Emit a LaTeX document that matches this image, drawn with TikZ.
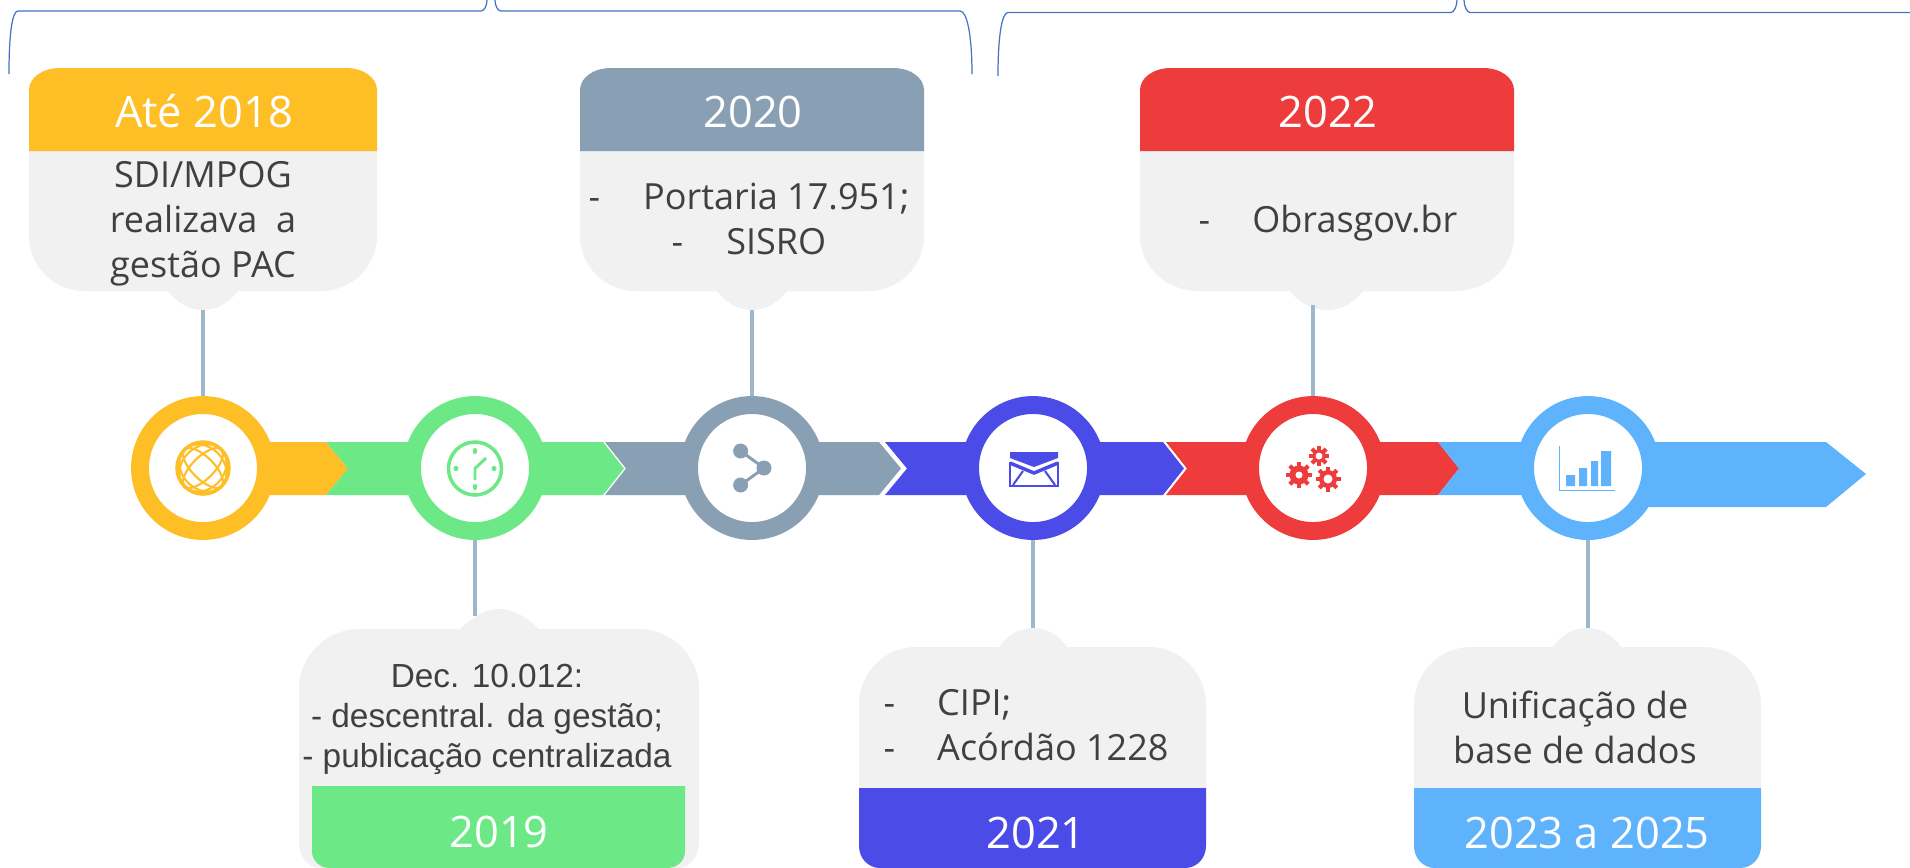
\documentclass[tikz,border=0pt]{standalone}
\usepackage{fontspec}
\setmainfont{Open Sans}
\newfontfamily\decfont{Liberation Sans}
\definecolor{ambar}{HTML}{FEBE25}
\definecolor{verde}{HTML}{6CE986}
\definecolor{cinza}{HTML}{899FB3}
\definecolor{anil}{HTML}{4B4BE8}
\definecolor{rubro}{HTML}{EE3B3B}
\definecolor{celeste}{HTML}{5FB2FC}
\definecolor{fundo}{HTML}{F1F1F1}
\definecolor{haste}{HTML}{9DB7CB}
\definecolor{chave}{HTML}{4472C4}
\definecolor{texto}{HTML}{404040}
\tikzset{
  ring/.style={circle, draw=#1, fill=white, line width=10.2pt, minimum size=2.52cm, inner sep=0pt},
  stem/.style={draw=haste, line width=2pt},
  brace/.style={draw=chave, line width=0.7pt},
  year/.style={text=white, font=\fontsize{24.7}{30}\selectfont, anchor=base},
  body/.style={text=texto, font=\fontsize{20.5}{25.6}\selectfont, align=center, inner sep=0pt},
  bodyleft/.style={text=texto, font=\fontsize{20.5}{25.6}\selectfont, align=left, inner sep=0pt},
  decbody/.style={text=texto, font=\decfont\fontsize{19}{22.8}\selectfont, align=center, inner sep=0pt}
}
\begin{document}
\begin{tikzpicture}[x=0.02cm, y=-0.02cm]
    \useasboundingbox (0,0) rectangle (1910,867);

    % braces along the top
    \draw[brace] (9,74) .. controls (9,35) and (12,11) .. (18,11) -- (481,11) .. controls (484,11) and (487,6) .. (487,0);
    \draw[brace] (495,0) .. controls (495,6) and (498,11) .. (501,11) -- (960,11) .. controls (967,11) and (972,35) .. (972,74);
    \draw[brace] (998,76) .. controls (998,35) and (1002,12.5) .. (1008,12.5) -- (1451,12.5) .. controls (1454,12.5) and (1457,6) .. (1457,0);
    \draw[brace] (1464,0) .. controls (1464,6) and (1467,12.5) .. (1470,12.5) -- (1910,12.5);

    % arrow segments
    \fill[ambar] (203,442) -- (326,442) -- (348,468.5) -- (326,495) -- (203,495) -- cycle;
    \fill[verde] (326,442) -- (603,442) -- (624,468.5) -- (603,495) -- (326,495) -- (348,468.5) -- cycle;
    \fill[cinza] (605,442) -- (879,442) -- (901,468.5) -- (879,495) -- (605,495) -- (626,468.5) -- cycle;
    \fill[anil] (885,442) -- (1163,442) -- (1184,468.5) -- (1163,495) -- (885,495) -- (907,468.5) -- cycle;
    \fill[rubro] (1166,442) -- (1438,442) -- (1459,468.5) -- (1438,495) -- (1166,495) -- (1187,468.5) -- cycle;
    \fill[celeste] (1438,442) -- (1826,442) -- (1866,474) -- (1826,507) -- (1588,507) -- (1588,495) -- (1438,495) -- (1459,468.5) -- cycle;

    % upper cards
    \fill[fundo] (29,151) -- (29,236) .. controls (29,266) and (54,291) .. (84,291) -- (168,291) .. controls (178,304) and (190,310) .. (203,310) .. controls (216,310) and (228,304) .. (238,291) -- (322,291) .. controls (352,291) and (377,266) .. (377,236) -- (377,151) -- cycle;
    \fill[ambar] (29,151) -- (29,90) .. controls (29,78) and (42,68) .. (60,68) -- (346,68) .. controls (364,68) and (377,78) .. (377,90) -- (377,151) -- cycle;
    \fill[fundo] (580,151) -- (580,236) .. controls (580,266) and (605,291) .. (635,291) -- (717,291) .. controls (727,304) and (739,310) .. (752,310) .. controls (765,310) and (777,304) .. (787,291) -- (869,291) .. controls (899,291) and (924,266) .. (924,236) -- (924,151) -- cycle;
    \fill[cinza] (580,151) -- (580,90) .. controls (580,78) and (593,68) .. (611,68) -- (893,68) .. controls (911,68) and (924,78) .. (924,90) -- (924,151) -- cycle;
    \fill[fundo] (1140,151) -- (1140,236) .. controls (1140,266) and (1165,291) .. (1199,291) -- (1290,291) .. controls (1300,304) and (1314,310) .. (1327,310) .. controls (1340,310) and (1353,304) .. (1363,291) -- (1455,291) .. controls (1489,291) and (1514,266) .. (1514,236) -- (1514,151) -- cycle;
    \fill[rubro] (1140,151) -- (1140,90) .. controls (1140,78) and (1153,68) .. (1171,68) -- (1483,68) .. controls (1501,68) and (1514,78) .. (1514,90) -- (1514,151) -- cycle;

    % lower cards
    \fill[fundo] (320,868) .. controls (308,868) and (299,856) .. (299,843) -- (299,689) .. controls (299,656) and (326,629) .. (359,629) -- (460,629) .. controls (475,615) and (487,609) .. (499.5,609) .. controls (512,609) and (524,615) .. (539,629) -- (639,629) .. controls (672,629) and (699,656) .. (699,689) -- (699,843) .. controls (699,856) and (690,868) .. (678,868) -- cycle;
    \fill[verde] (312,786) -- (312,851) .. controls (312,861) and (320,868) .. (330,868) -- (667,868) .. controls (677,868) and (685,861) .. (685,851) -- (685,786) -- cycle;
    \fill[fundo] (859,788) -- (859,705) .. controls (859,673) and (884,647) .. (916,647) -- (999,647) .. controls (1008,634) and (1020,628) .. (1033,628) .. controls (1046,628) and (1058,634) .. (1067,647) -- (1149,647) .. controls (1181,647) and (1206,673) .. (1206,705) -- (1206,788) -- cycle;
    \fill[anil] (859,788) -- (859,846) .. controls (859,858) and (868,868) .. (880,868) -- (1185,868) .. controls (1197,868) and (1206,858) .. (1206,846) -- (1206,788) -- cycle;
    \fill[fundo] (1414,788) -- (1414,705) .. controls (1414,673) and (1439,647) .. (1471,647) -- (1553,647) .. controls (1562,634) and (1574,628) .. (1587,628) .. controls (1600,628) and (1612,634) .. (1621,647) -- (1704,647) .. controls (1736,647) and (1761,673) .. (1761,705) -- (1761,788) -- cycle;
    \fill[celeste] (1414,788) -- (1414,846) .. controls (1414,858) and (1423,868) .. (1435,868) -- (1740,868) .. controls (1752,868) and (1761,858) .. (1761,846) -- (1761,788) -- cycle;

    % rings
    \node[ring=ambar] (ring1) at (203,468) {};
    \node[ring=verde] (ring2) at (475,468) {};
    \node[ring=cinza] (ring3) at (752,468) {};
    \node[ring=anil] (ring4) at (1033,468) {};
    \node[ring=rubro] (ring5) at (1313,468) {};
    \node[ring=celeste] (ring6) at (1588,468) {};

    % stems
    \coordinate (tip1) at (203,310);
    \coordinate (tip2) at (475,616);
    \coordinate (tip3) at (752,310);
    \coordinate (tip4) at (1033,628);
    \coordinate (tip5) at (1313,305);
    \coordinate (tip6) at (1588,628);
    \draw[stem] (tip1) -- (ring1.north);
    \draw[stem] (tip2) -- (ring2.south);
    \draw[stem] (tip3) -- (ring3.north);
    \draw[stem] (tip4) -- (ring4.south);
    \draw[stem] (tip5) -- (ring5.north);
    \draw[stem] (tip6) -- (ring6.south);

    % globe
    \draw[ambar, line width=2pt] (203,468) circle (26);
    \foreach \w in {11,21} {
        \draw[ambar, line width=1.2pt, rotate around={45:(203,468)}] (203,468) ellipse (\w cm*0.02 and 0.52cm);
        \draw[ambar, line width=1.2pt, rotate around={-45:(203,468)}] (203,468) ellipse (\w cm*0.02 and 0.52cm);
    }

    % clock
    \draw[verde, line width=2pt] (475,468.5) circle (26.5);
    \fill[verde] (475,451) ellipse (2.2 and 3.2) (475,487) ellipse (2.2 and 3.2) (456,468.5) ellipse (2.6 and 2.6) (494,468.5) ellipse (2.6 and 2.6);
    \draw[verde, line width=1.7pt] (486,458) -- (475,468.5) -- (475,480);

    % share
    \fill[cinza] (740.6,451) circle (7.5) (764,468) circle (7.5) (740.6,485) circle (7.5);
    \draw[cinza, line width=1.7pt] (740.6,451) -- (764,468) -- (740.6,485);

    % envelope
    \fill[anil] (1010,452) -- (1058,452) -- (1058,458) -- (1034,467) -- (1010,458) -- cycle;
    \draw[anil, line width=1.2pt] (1010,462) -- (1010,486) -- (1058,486) -- (1058,462);
    \draw[anil, line width=2pt] (1010,463) -- (1034,473) -- (1058,463);
    \draw[anil, line width=1.2pt] (1023,471) -- (1013,485) (1045,471) -- (1055,485);

    % gears
    \foreach \gx/\gy/\gr/\gh in {1299/475/9.5/3.5, 1328/479/9/4.5, 1319/456/6.5/3.5} {
        \foreach \a in {0,45,...,315}
            \draw[rubro, line width=2.4pt] (\gx,\gy) -- ++(\a:\gr cm*0.02+0.07cm);
        \fill[rubro] (\gx,\gy) circle (\gr);
        \fill[white] (\gx,\gy) circle (\gh);
    }

    % chart
    \draw[celeste, line width=0.8pt] (1559.6,446) -- (1559.6,490.7) -- (1615,490.7);
    \fill[celeste] (1566,475) rectangle (1575,486) (1579,468) rectangle (1587,486) (1591,461) rectangle (1598,486) (1601,451) rectangle (1611,486);

    % years
    \node[year] (year1) at (204,127) {Até 2018};
    \node[year] (year2) at (499,847) {2019};
    \node[year] (year3) at (753,127) {2020};
    \node[year] (year4) at (1036,848) {2021};
    \node[year] (year5) at (1328,127) {2022};
    \node[year] (year6) at (1587,848) {2023 a 2025};

    % card texts
    \node[body] (text1) at (203,224) {SDI/MPOG\\realizava\ \ a\\gestão PAC};
    \node[decbody] (text2) at (487,719) {Dec. 10.012:\\- descentral. da gestão;\\- publicação centralizada};
    \node[body] (text3) at (749,218.5) {-\hspace{24.5pt}Portaria 17.951;\\-\hspace{24.5pt}SISRO};
    \node[bodyleft] (text4) at (1026,725) {-\hspace{24pt}CIPI;\\-\hspace{24pt}Acórdão 1228};
    \node[body] (text5) at (1328,223) {-\hspace{24pt}Obrasgov.br};
    \node[body] (text6) at (1575,727) {Unificação de\\base de dados};
\end{tikzpicture}
\end{document}
